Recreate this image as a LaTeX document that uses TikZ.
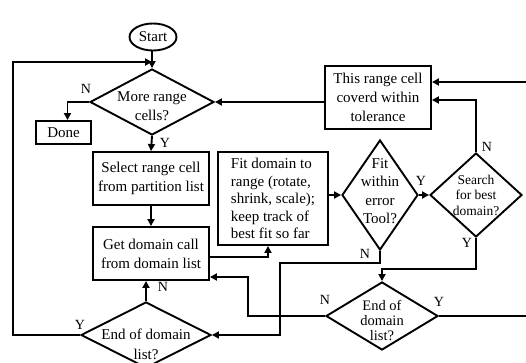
\documentclass[tikz,border=0pt]{standalone}
\usepackage{fontspec}
\setmainfont{Liberation Serif}
\usetikzlibrary{shapes.geometric,arrows.meta}
\newcommand\fsz[2]{\fontsize{#1}{#2}\selectfont}
\tikzset{
  lw/.style={line width=1.9pt},
  box/.style={draw, lw, rectangle, inner sep=0pt, align=center, font=\fsz{15}{19}},
  dia/.style={draw, lw, diamond, inner sep=0pt},
  dtext/.style={align=center, inner sep=0pt, font=\fsz{15}{18.5}},
  arr/.style={lw, -{Triangle[length=7pt,width=7pt]}},
  ln/.style={lw},
  lab/.style={font=\fsz{14}{14}, inner sep=0pt}
}
\begin{document}
\begin{tikzpicture}[x=1pt,y=-1pt]
\useasboundingbox (0,0) rectangle (526,363);
% nodes
\node[draw, lw, ellipse, minimum width=47pt, minimum height=27pt, inner sep=0pt, font=\fsz{15}{15}] (start) at (153,37) {Start};
\node[dia, minimum width=124pt, minimum height=66pt,
  label={[dtext, yshift=-4pt]center:{More range\\cells?}}] (mr) at (152,102) {};
\node[box, minimum width=55pt, minimum height=23pt] (done) at (63.5,132.5) {Done};
\node[box, minimum width=116pt, minimum height=53pt] (sel) at (151,178.5) {Select range cell\\from partition list};
\node[box, minimum width=116pt, minimum height=53pt] (get) at (151,253.5) {Get domain call\\from domain list};
\node[dia, minimum width=130pt, minimum height=66pt,
  label={[dtext, yshift=-9pt, font=\fsz{15}{20}]center:{End of domain\\list?}}] (ed1) at (146,335) {};
\node[box, minimum width=110pt, minimum height=93pt, align=left, font=\fsz{15}{17.5}] (fit) at (273,198.5)
  {Fit domain to\\range (rotate,\\shrink, scale);\\keep track of\\best fit so far};
\node[dia, minimum width=76pt, minimum height=110pt,
  label={[dtext, yshift=4pt]center:{Fit\\within\\error\\Tool?}}] (fw) at (380,195) {};
\node[dia, minimum width=92pt, minimum height=84pt,
  label={[dtext, font=\fsz{13.5}{15.5}]center:{Search\\for best\\domain?}}] (sd) at (476,195) {};
\node[box, minimum width=106pt, minimum height=63pt] (tr) at (378,97.5) {This range cell\\coverd within\\tolerance};
\node[dia, minimum width=112pt, minimum height=68pt,
  label={[dtext, yshift=-4pt, font=\fsz{14.5}{15}]center:{End of\\domain\\list?}}] (ed2) at (382,316) {};
% coordinates
\coordinate (lft) at (13,62);
\coordinate (jn) at (152,62);
\coordinate (re1) at (526,82);
\coordinate (re2) at (526,316);
\coordinate (cr) at (280,263);
\coordinate (cl) at (248,277);
% connectors
\draw[arr] (start.south -| mr.north) -- (mr.north);
\draw[arr] (ed1.west) -| (lft) -- (jn);
\draw[arr] (mr.west) -| ([xshift=4pt]done.north);
\draw[arr] (mr.south) -- (sel.north);
\draw[arr] (sel.south) -- (get.north);
\draw[arr] (ed1.north) -- (ed1.north |- get.south);
\draw[arr] ([yshift=-3.5pt]get.east) -| ([xshift=-5pt]fit.south);
\draw[arr] (fw.west -| fit.east) -- (fw.west);
\draw[arr] (fw.east) -- (sd.west);
\draw[arr] (sd.north) |- ([yshift=-2.5pt]tr.east);
\draw[arr] (re1) -- (re1 -| tr.east);
\draw[arr] (mr.east -| tr.west) -- (mr.east);
\draw[arr] (sd.south) -- ++(0,31) -| (ed2.north);
\draw[arr] (fw.south) |- (cr) |- (ed1.east);
\draw[arr] (ed2.west) -| (cl) -- (cl -| get.east);
\draw[ln] (ed2.east) -- (re2);
% labels
\node[lab] (l1) at (86,89) {N};
\node[lab] (l2) at (165,143) {Y};
\node[lab] (l3) at (163,287) {N};
\node[lab] (l4) at (80,325) {Y};
\node[lab] (l5) at (421,181) {Y};
\node[lab] (l6) at (487,147) {N};
\node[lab] (l7) at (467,243) {Y};
\node[lab] (l8) at (365,254) {N};
\node[lab] (l9) at (325,300) {N};
\node[lab] (l10) at (439,302) {Y};
\end{tikzpicture}
\end{document}
